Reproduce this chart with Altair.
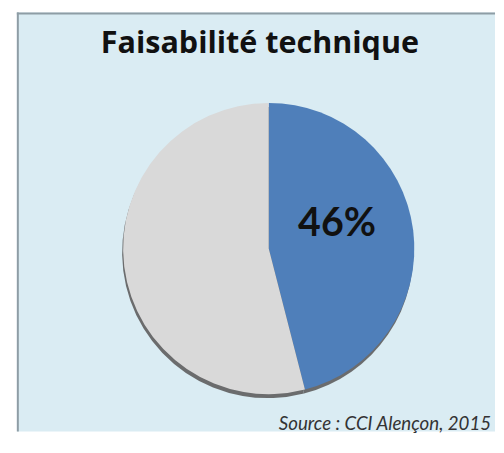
import altair as alt
import pandas as pd

title_text = "Faisabilité technique"
source_text = "Source : CCI Alençon, 2015"
categories = ["Oui", "Non"]
values = [46, 54]
labels = ["46%", ""]
colors = ["#4F7FBA", "#D9D9D9"]

BG = "#DAECF3"
BORDER = "#8E9DA5"
TOTAL_W, H = 496, 428
CX, CY = 256, 240
R = 148

df = pd.DataFrame({"cat": categories, "val": values, "lab": labels, "ord": [0, 1]})
one = pd.DataFrame({"k": [0]})

base = alt.Chart(df)

shadow = base.mark_arc(outerRadius=R, color="#5E5E5E", opacity=0.9).encode(
    theta=alt.Theta("val:Q", stack=True),
    order=alt.Order("ord:Q"),
    x=alt.value(CX - 1), y=alt.value(CY + 4),
)

pie = base.mark_arc(outerRadius=R).encode(
    theta=alt.Theta("val:Q", stack=True),
    order=alt.Order("ord:Q"),
    color=alt.Color("cat:N", scale=alt.Scale(domain=categories, range=colors), legend=None),
    x=alt.value(CX), y=alt.value(CY),
)

label = base.mark_text(radius=70, dy=-16, font="Lato", fontWeight="bold",
                       fontSize=40, color="#111111").encode(
    theta=alt.Theta("val:Q", stack=True),
    order=alt.Order("ord:Q"),
    text="lab:N",
    x=alt.value(CX), y=alt.value(CY),
)

left_rule = alt.Chart(one).mark_rule(color=BORDER, strokeWidth=2).encode(
    x=alt.value(1), y=alt.value(0), y2=alt.value("height"))
top_rule = alt.Chart(one).mark_rule(color=BORDER, strokeWidth=2).encode(
    x=alt.value(0), x2=alt.value("width"), y=alt.value(1))

title = alt.Chart(one).mark_text(font="Open Sans", fontWeight="bold", fontSize=31,
                                 color="#111111", baseline="alphabetic", align="center").encode(
    text=alt.value(title_text), x=alt.value(247), y=alt.value(41))

source = alt.Chart(one).mark_text(font="Lato", fontStyle="italic", fontSize=19, dx=-4,
                                  color="#333333", baseline="alphabetic", align="right").encode(
    text=alt.value(source_text), x=alt.value("width"), y=alt.value(424))

chart = alt.layer(shadow, pie, label, left_rule, top_rule, title, source).properties(
    width=TOTAL_W, height=H,
    padding={"left": 8, "top": 0, "right": 0, "bottom": 0},
    autosize=alt.AutoSizeParams(type="fit", contains="padding"),
    background="white",
).configure_view(fill=BG, strokeWidth=0)

chart.save("out.html", embed_options={"renderer": "svg", "actions": False})
